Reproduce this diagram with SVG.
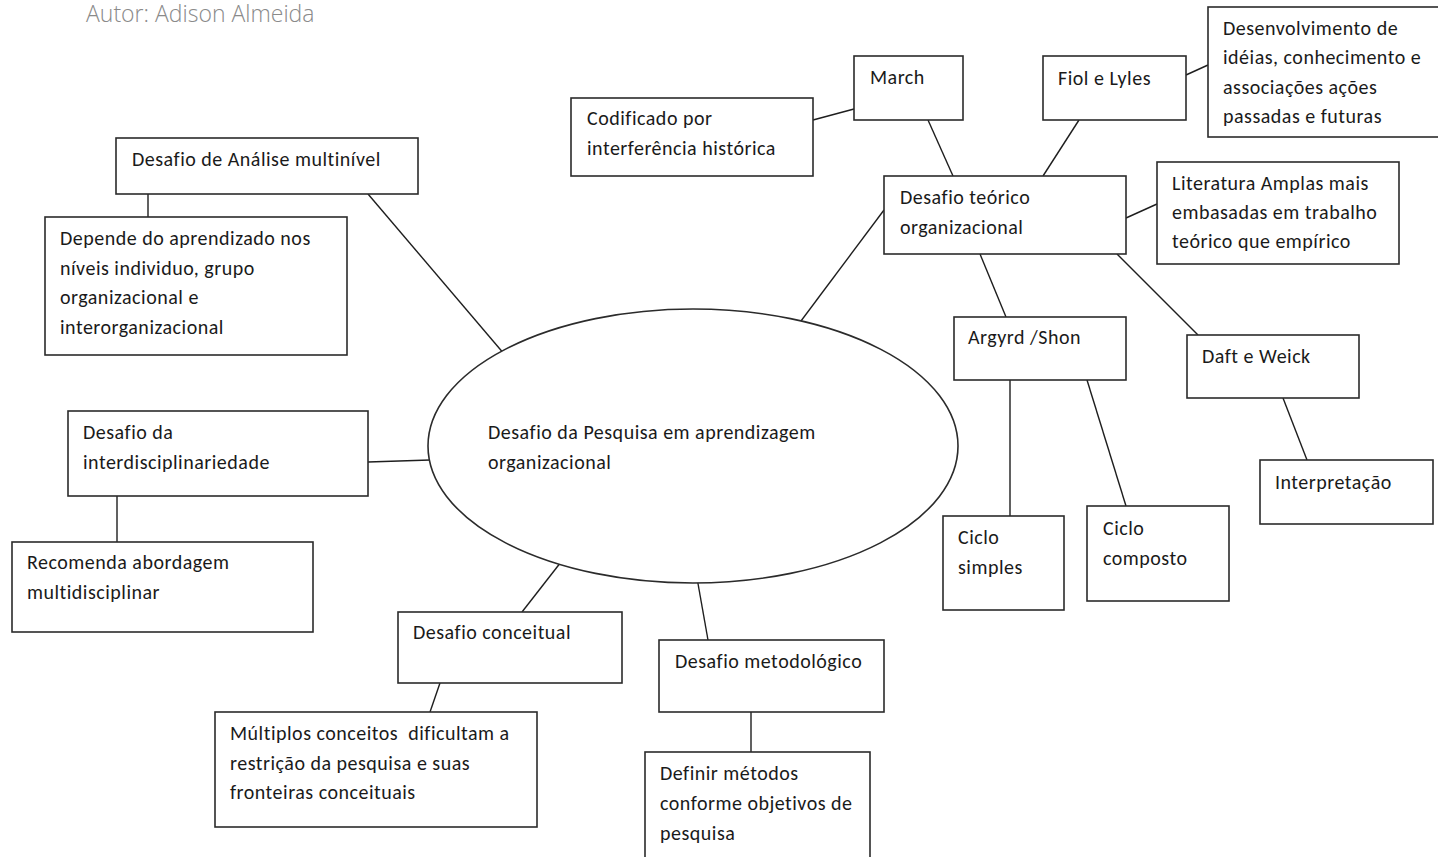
<svg xmlns="http://www.w3.org/2000/svg" width="1438" height="857" viewBox="0 0 1438 857">
  <style>
    .bg { fill: #ffffff; }
    .box { fill: #ffffff; stroke: #2b2b2b; stroke-width: 1.6; }
    .hub { fill: #ffffff; stroke: #2b2b2b; stroke-width: 1.6; }
    .link { stroke: #1e1e1e; stroke-width: 1.4; fill: none; }
    .lbl { font-family: Carlito, Lato, "Open Sans", sans-serif; font-size: 20px; letter-spacing: 0.5px; fill: #1a1a1a; }
    .author { font-family: "Open Sans", "Noto Sans", sans-serif; font-weight: 300; font-size: 23px; fill: #8a8a8a; }
  </style>

  <rect class="bg" x="0" y="0" width="1438" height="857"/>

  <text class="author" x="86" y="22">Autor: Adison Almeida</text>

  <!-- connectors -->
  <g id="connectors">
    <line class="link" x1="148" y1="194" x2="148" y2="217"/>
    <line class="link" x1="368" y1="194" x2="505" y2="355"/>
    <line class="link" x1="813" y1="120" x2="854" y2="109"/>
    <line class="link" x1="928" y1="120" x2="953" y2="176"/>
    <line class="link" x1="1079" y1="120" x2="1043" y2="176"/>
    <line class="link" x1="1186" y1="75" x2="1208" y2="65"/>
    <line class="link" x1="884" y1="210" x2="798" y2="325"/>
    <line class="link" x1="1126" y1="218" x2="1157" y2="204"/>
    <line class="link" x1="980" y1="254" x2="1006" y2="317"/>
    <line class="link" x1="1117" y1="254" x2="1198" y2="335"/>
    <line class="link" x1="1010" y1="380" x2="1010" y2="516"/>
    <line class="link" x1="1087" y1="380" x2="1126" y2="506"/>
    <line class="link" x1="1283" y1="398" x2="1307" y2="460"/>
    <line class="link" x1="368" y1="462" x2="430" y2="460"/>
    <line class="link" x1="117" y1="496" x2="117" y2="542"/>
    <line class="link" x1="561" y1="562" x2="522" y2="612"/>
    <line class="link" x1="697" y1="578" x2="708" y2="640"/>
    <line class="link" x1="440" y1="683" x2="430" y2="712"/>
    <line class="link" x1="751" y1="712" x2="751" y2="752"/>
  </g>

  <!-- central topic -->
  <g id="hub">
    <ellipse class="hub" cx="693" cy="446" rx="265" ry="137"/>
    <text class="lbl" x="488" y="439">Desafio da Pesquisa em aprendizagem</text>
    <text class="lbl" x="488" y="469">organizacional</text>
  </g>

  <g id="analise-multinivel">
    <rect class="box" x="116" y="138" width="302" height="56"/>
    <text class="lbl" x="132" y="166">Desafio de Análise multinível</text>
  </g>

  <g id="depende">
    <rect class="box" x="45" y="217" width="302" height="138"/>
    <text class="lbl" x="60" y="245">Depende do aprendizado nos</text>
    <text class="lbl" x="60" y="275">níveis individuo, grupo</text>
    <text class="lbl" x="60" y="304">organizacional e</text>
    <text class="lbl" x="60" y="334">interorganizacional</text>
  </g>

  <g id="codificado">
    <rect class="box" x="571" y="98" width="242" height="78"/>
    <text class="lbl" x="587" y="125">Codificado por</text>
    <text class="lbl" x="587" y="155">interferência histórica</text>
  </g>

  <g id="march">
    <rect class="box" x="854" y="56" width="109" height="64"/>
    <text class="lbl" x="870" y="84">March</text>
  </g>

  <g id="fiol-lyles">
    <rect class="box" x="1043" y="56" width="143" height="64"/>
    <text class="lbl" x="1058" y="85">Fiol e Lyles</text>
  </g>

  <g id="desenvolvimento">
    <rect class="box" x="1208" y="7" width="240" height="130"/>
    <text class="lbl" x="1223" y="35">Desenvolvimento de</text>
    <text class="lbl" x="1223" y="64">idéias, conhecimento e</text>
    <text class="lbl" x="1223" y="94">associações ações</text>
    <text class="lbl" x="1223" y="123">passadas e futuras</text>
  </g>

  <g id="teorico">
    <rect class="box" x="884" y="176" width="242" height="78"/>
    <text class="lbl" x="900" y="204">Desafio teórico</text>
    <text class="lbl" x="900" y="234">organizacional</text>
  </g>

  <g id="literatura">
    <rect class="box" x="1157" y="162" width="242" height="102"/>
    <text class="lbl" x="1172" y="190">Literatura Amplas mais</text>
    <text class="lbl" x="1172" y="219">embasadas em trabalho</text>
    <text class="lbl" x="1172" y="248">teórico que empírico</text>
  </g>

  <g id="argyrd-shon">
    <rect class="box" x="954" y="317" width="172" height="63"/>
    <text class="lbl" x="968" y="344">Argyrd /Shon</text>
  </g>

  <g id="daft-weick">
    <rect class="box" x="1187" y="335" width="172" height="63"/>
    <text class="lbl" x="1202" y="363">Daft e Weick</text>
  </g>

  <g id="interpretacao">
    <rect class="box" x="1260" y="460" width="173" height="64"/>
    <text class="lbl" x="1275" y="489">Interpretação</text>
  </g>

  <g id="ciclo-simples">
    <rect class="box" x="943" y="516" width="121" height="94"/>
    <text class="lbl" x="958" y="544">Ciclo</text>
    <text class="lbl" x="958" y="574">simples</text>
  </g>

  <g id="ciclo-composto">
    <rect class="box" x="1087" y="506" width="142" height="95"/>
    <text class="lbl" x="1103" y="535">Ciclo</text>
    <text class="lbl" x="1103" y="565">composto</text>
  </g>

  <g id="interdisciplinariedade">
    <rect class="box" x="68" y="411" width="300" height="85"/>
    <text class="lbl" x="83" y="439">Desafio da</text>
    <text class="lbl" x="83" y="469">interdisciplinariedade</text>
  </g>

  <g id="recomenda">
    <rect class="box" x="12" y="542" width="301" height="90"/>
    <text class="lbl" x="27" y="569">Recomenda abordagem</text>
    <text class="lbl" x="27" y="599">multidisciplinar</text>
  </g>

  <g id="conceitual">
    <rect class="box" x="398" y="612" width="224" height="71"/>
    <text class="lbl" x="413" y="639">Desafio conceitual</text>
  </g>

  <g id="metodologico">
    <rect class="box" x="659" y="640" width="225" height="72"/>
    <text class="lbl" x="675" y="668">Desafio metodológico</text>
  </g>

  <g id="multiplos">
    <rect class="box" x="215" y="712" width="322" height="115"/>
    <text class="lbl" x="230" y="740" xml:space="preserve">Múltiplos conceitos  dificultam a</text>
    <text class="lbl" x="230" y="770">restrição da pesquisa e suas</text>
    <text class="lbl" x="230" y="799">fronteiras conceituais</text>
  </g>

  <g id="definir">
    <rect class="box" x="645" y="752" width="225" height="120"/>
    <text class="lbl" x="660" y="780">Definir métodos</text>
    <text class="lbl" x="660" y="810">conforme objetivos de</text>
    <text class="lbl" x="660" y="840">pesquisa</text>
  </g>
</svg>
